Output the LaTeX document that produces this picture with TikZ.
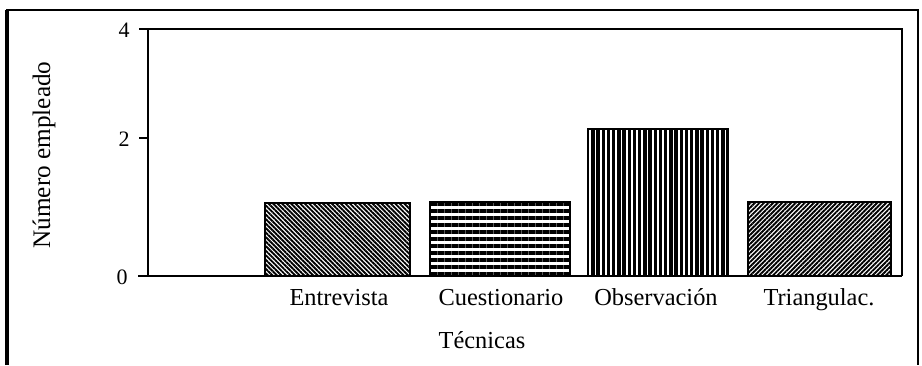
\documentclass[tikz,border=0pt]{standalone}
\usepackage{fontspec}
\setmainfont{Liberation Serif}
\usetikzlibrary{patterns.meta}

\begin{document}
\begin{tikzpicture}[x=0.5pt,y=-0.5pt,
    catlabel/.style={font=\fontsize{12.2}{14}\selectfont, inner sep=0pt, anchor=base},
    ticklabel/.style={font=\fontsize{11}{12}\selectfont, inner sep=0pt, anchor=center},
    axisline/.style={line width=0.8pt},
    barbox/.style={draw=black, line width=0.9pt}]

    \useasboundingbox (0,0) rectangle (922,365);

    % Draw the outer frame
    \draw[line width=2pt] (7,365) -- (7,10);
    \draw[line width=1.4pt] (6,10) -- (918,10) -- (918,365);

    % Draw the axes
    \draw[axisline] (148,276) -- (148,29) -- (902,29) -- (902,276);
    \draw[axisline] (138,276) -- (902,276);
    \foreach \yy in {29,138} {
        \draw[axisline] (139,\yy) -- (148,\yy);
    }

    % Tick labels
    \node[ticklabel] (t4) at (124,30) {4};
    \node[ticklabel] (t2) at (124,139) {2};
    \node[ticklabel] (t0) at (122,277) {0};

    % Draw the bars
    \draw[barbox, line width=0.8pt, pattern={Lines[angle=-45, distance=1.6pt, line width=0.95pt]}]
        (265,276) rectangle (410,203);
    \draw[barbox, line width=1.4pt, pattern={Lines[angle=0, distance=3.5pt, line width=1.8pt]}]
        (430,276) rectangle (570,202);
    \draw[barbox, line width=1.4pt, pattern={Lines[angle=90, distance=2.6pt, line width=1.7pt]}]
        (588,276) rectangle (728,129);
    \draw[barbox, line width=0.8pt, pattern={Lines[angle=45, distance=1.6pt, line width=0.95pt]}]
        (748,276) rectangle (891,202);

    % Label the bars
    \node[catlabel] (entrevista) at (339,305) {Entrevista};
    \node[catlabel] (cuestionario) at (501,305) {Cuestionario};
    \node[catlabel] (observacion) at (656,305) {Observación};
    \node[catlabel] (triangulac) at (819,305) {Triangulac.};

    % Axis titles
    \node[catlabel] (tecnicas) at (482,348) {Técnicas};
    \node[catlabel, anchor=center, rotate=90, font=\fontsize{12.6}{14}\selectfont] (numero) at (44,155) {Número empleado};
\end{tikzpicture}
\end{document}
